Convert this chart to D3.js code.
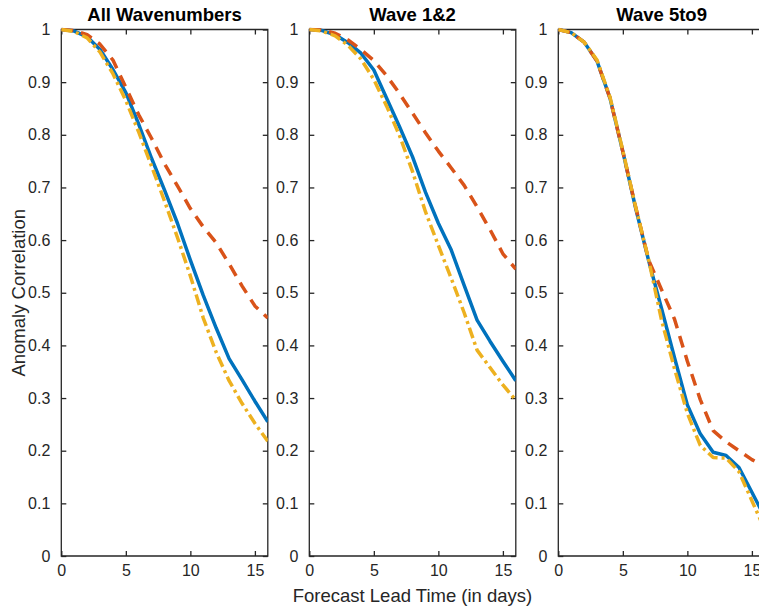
<!DOCTYPE html>
<html>
<head>
<meta charset="utf-8">
<script src="https://cdn.jsdelivr.net/npm/d3@7"></script>
<style>
  html, body { margin: 0; padding: 0; background: #fff; }
  svg { display: block; font-family: "Liberation Sans", Arial, Helvetica, sans-serif; }
</style>
</head>
<body>
<svg id="chart" width="759" height="613"></svg>
<script>
// ---- data ----
const days = [0, 1, 2, 3, 4, 5, 6, 7, 8, 9, 10, 11, 12, 13, 14, 15, 16];
const panelTitles = ["All Wavenumbers", "Wave 1&2", "Wave 5to9"];
const xTicks = [0, 5, 10, 15];
const yTicks = [0, 0.1, 0.2, 0.3, 0.4, 0.5, 0.6, 0.7, 0.8, 0.9, 1];

// All wavenumbers
const allBlue   = [1, 0.997, 0.986, 0.962, 0.924, 0.880, 0.820, 0.755, 0.695, 0.632, 0.562, 0.495, 0.433, 0.375, 0.335, 0.294, 0.255];
const allRed    = [1, 0.998, 0.990, 0.972, 0.942, 0.890, 0.838, 0.793, 0.745, 0.703, 0.660, 0.625, 0.595, 0.555, 0.513, 0.475, 0.452];
const allYellow = [1, 0.996, 0.984, 0.957, 0.916, 0.865, 0.805, 0.740, 0.674, 0.605, 0.532, 0.452, 0.387, 0.333, 0.290, 0.252, 0.218];
// Wave 1&2
const w12Blue   = [1, 0.998, 0.990, 0.975, 0.955, 0.923, 0.869, 0.815, 0.758, 0.691, 0.632, 0.581, 0.514, 0.448, 0.408, 0.370, 0.333];
const w12Red    = [1, 0.999, 0.993, 0.980, 0.962, 0.941, 0.912, 0.878, 0.841, 0.804, 0.769, 0.737, 0.704, 0.663, 0.620, 0.574, 0.545];
const w12Yellow = [1, 0.997, 0.988, 0.970, 0.944, 0.905, 0.854, 0.798, 0.730, 0.654, 0.590, 0.527, 0.462, 0.391, 0.358, 0.325, 0.296];
// Wave 5to9
const w59Blue   = [1, 0.994, 0.976, 0.940, 0.870, 0.768, 0.660, 0.561, 0.470, 0.377, 0.287, 0.232, 0.197, 0.191, 0.168, 0.121, 0.074];
const w59Red    = [1, 0.994, 0.976, 0.940, 0.870, 0.768, 0.662, 0.562, 0.506, 0.450, 0.370, 0.297, 0.238, 0.217, 0.200, 0.183, 0.170];
const w59Yellow = [1, 0.994, 0.976, 0.942, 0.872, 0.770, 0.662, 0.563, 0.448, 0.356, 0.271, 0.210, 0.187, 0.186, 0.160, 0.105, 0.050];

const panelSeries = [
  [allBlue, allRed, allYellow],
  [w12Blue, w12Red, w12Yellow],
  [w59Blue, w59Red, w59Yellow]
];

// ---- styles ----
const seriesStyles = [
  { color: "#0072BD", dash: null },
  { color: "#D95319", dash: "12,8" },
  { color: "#EDB120", dash: "11,4,3,4" }
];
const axisColor = "#262626";

// ---- layout ----
const panelLefts = [61.3, 309.3, 558.3];
const panelWidth = 206.5;
const plotTop = 29.5, plotH = 526.5;

const svg = d3.select("#chart");
const defs = svg.append("defs");

panelTitles.forEach((title, i) => {
  const x = d3.scaleLinear().domain([0, 16]).range([panelLefts[i], panelLefts[i] + panelWidth]);
  const y = d3.scaleLinear().domain([0, 1]).range([plotTop + plotH, plotTop]);
  const g = svg.append("g");

  defs.append("clipPath").attr("id", "clip" + i)
    .append("rect").attr("x", x(0)).attr("y", y(1) - 2).attr("width", panelWidth).attr("height", plotH + 4);

  const xr = x(16), xl = x(0), yt = y(1), yb = y(0);
  g.append("path")
    .attr("d", `M${xl},${yb}L${xr},${yb}L${xr},${yt}L${xl},${yt}Z`)
    .attr("fill", "none").attr("stroke", axisColor).attr("stroke-width", 1.3);

  const xAxisB = d3.axisBottom(x).tickValues(xTicks).tickSizeInner(-5).tickSizeOuter(0).tickPadding(9).tickFormat(d3.format("d"));
  const xAxisT = d3.axisTop(x).tickValues(xTicks).tickSizeInner(-5).tickSizeOuter(0).tickFormat("");
  const yAxisL = d3.axisLeft(y).tickValues(yTicks).tickSizeInner(-5).tickSizeOuter(0).tickPadding(11).tickFormat(d => d === 0 || d === 1 ? d3.format("d")(d) : d3.format(".1f")(d));
  const yAxisR = d3.axisRight(y).tickValues(yTicks).tickSizeInner(-5).tickSizeOuter(0).tickFormat("");

  const styleAxis = sel => {
    sel.select(".domain").remove();
    sel.selectAll("line").attr("stroke", axisColor).attr("stroke-width", 1.3);
    sel.selectAll("text").attr("fill", axisColor).attr("font-size", 16)
      .attr("font-family", "'Liberation Sans', Arial, Helvetica, sans-serif");
  };
  g.append("g").attr("transform", `translate(0,${yb})`).call(xAxisB).call(styleAxis);
  g.append("g").attr("transform", `translate(0,${yt})`).call(xAxisT).call(styleAxis);
  g.append("g").attr("transform", `translate(${xl},0)`).call(yAxisL).call(styleAxis);
  g.append("g").attr("transform", `translate(${xr},0)`).call(yAxisR).call(styleAxis);

  const line = d3.line().x((d, k) => x(days[k])).y(d => y(d));
  const lg = g.append("g").attr("clip-path", `url(#clip${i})`);
  panelSeries[i].forEach((vals, s) => {
    lg.append("path")
      .datum(vals)
      .attr("d", line)
      .attr("fill", "none")
      .attr("stroke", seriesStyles[s].color)
      .attr("stroke-width", 3.5)
      .attr("stroke-linejoin", "round")
      .attr("stroke-dasharray", seriesStyles[s].dash);
  });

  svg.append("text")
    .attr("x", (xl + xr) / 2).attr("y", 21)
    .attr("text-anchor", "middle")
    .attr("font-weight", "bold").attr("font-size", 18.5)
    .attr("fill", "#000")
    .text(title);
});

svg.append("text")
  .attr("transform", `translate(25,${plotTop + plotH / 2}) rotate(-90)`)
  .attr("text-anchor", "middle")
  .attr("font-size", 18.5).attr("fill", axisColor)
  .text("Anomaly Correlation");

svg.append("text")
  .attr("x", 412.5).attr("y", 602)
  .attr("text-anchor", "middle")
  .attr("font-size", 18.5).attr("fill", axisColor)
  .text("Forecast Lead Time (in days)");
</script>
</body>
</html>
